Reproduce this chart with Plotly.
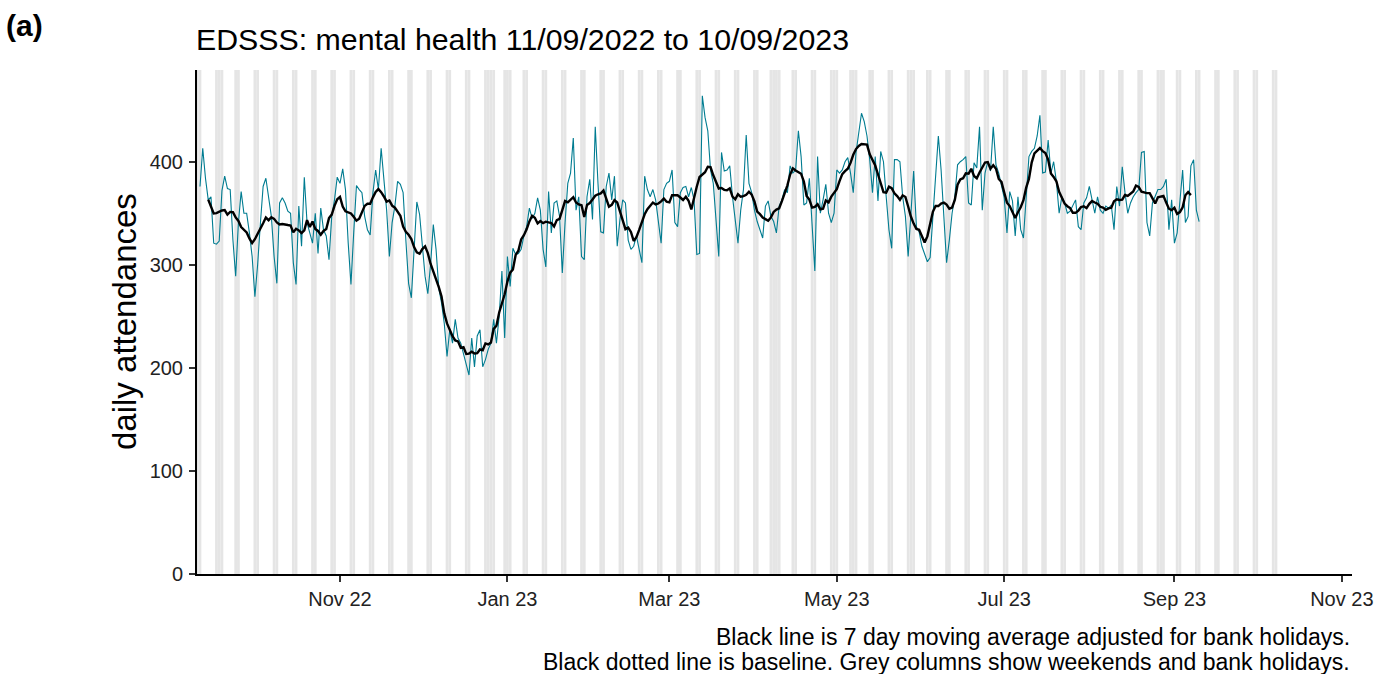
import pandas as pd
import plotly.graph_objects as go

# Daily EDSSS mental health attendances, one value per day from the start date
start_date = "2022-09-11"
daily_attendances = [
    376, 413, 384, 363, 366, 321, 320,
    323, 372, 386, 374, 373, 324, 289,
    341, 371, 350, 350, 331, 308, 269,
    300, 340, 376, 384, 366, 347, 308,
    282, 360, 365, 360, 352, 350, 302,
    281, 357, 318, 385, 341, 331, 321,
    350, 311, 355, 334, 328, 305, 347,
    363, 385, 379, 393, 373, 321, 281,
    331, 377, 373, 370, 347, 334, 329,
    370, 392, 373, 413, 384, 353, 308,
    341, 357, 381, 378, 370, 324, 282,
    268, 321, 361, 349, 315, 289, 272,
    300, 339, 315, 277, 263, 243, 211,
    237, 224, 247, 229, 224, 214, 205,
    193, 229, 201, 231, 237, 201, 208,
    218, 224, 247, 224, 250, 294, 229,
    308, 279, 316, 310, 311, 315, 328,
    337, 355, 345, 350, 365, 353, 315,
    298, 371, 331, 360, 362, 347, 292,
    341, 379, 389, 423, 353, 366, 308,
    305, 366, 383, 344, 434, 379, 332,
    331, 376, 389, 363, 386, 318, 344,
    363, 360, 324, 315, 318, 328, 315,
    302, 386, 373, 366, 373, 363, 341,
    321, 373, 379, 381, 392, 341, 337,
    370, 375, 376, 366, 375, 363, 310,
    311, 464, 443, 430, 392, 379, 347,
    308, 409, 391, 392, 396, 366, 344,
    321, 353, 373, 426, 379, 370, 353,
    342, 334, 326, 357, 362, 347, 342,
    331, 357, 363, 373, 370, 396, 389,
    392, 430, 405, 358, 360, 384, 337,
    294, 405, 350, 363, 378, 350, 341,
    350, 392, 389, 392, 400, 404, 389,
    370, 409, 428, 447, 439, 425, 402,
    370, 405, 362, 410, 400, 366, 334,
    316, 402, 402, 400, 366, 347, 308,
    347, 391, 337, 332, 318, 310, 303,
    307, 344, 379, 425, 392, 350, 302,
    324, 350, 366, 397, 400, 402, 405,
    360, 358, 399, 394, 434, 353, 389,
    400, 391, 434, 397, 389, 376, 365,
    331, 371, 362, 328, 366, 334, 326,
    370, 405, 410, 413, 425, 445, 389,
    390, 421, 389, 400, 381, 350, 366,
    360, 350, 352, 357, 363, 337, 334,
    360, 365, 376, 363, 350, 366, 353,
    350, 357, 355, 358, 334, 376, 357,
    395, 370, 350, 360, 366, 370, 373,
    409, 410, 341, 328, 360, 366, 373,
    373, 376, 383, 334, 363, 321, 331,
    363, 392, 341, 347, 396, 402, 353,
    342,
]

# England bank holidays in the period
bank_holidays = [
    "2022-09-19", "2022-12-26", "2022-12-27", "2023-01-02", "2023-04-07",
    "2023-04-10", "2023-05-01", "2023-05-08", "2023-05-29", "2023-08-28",
]
column_first_day = "2022-09-10"
column_last_day = "2023-10-08"

x_tick_dates = ["2022-11-01", "2023-01-01", "2023-03-01", "2023-05-01",
                "2023-07-01", "2023-09-01", "2023-11-01"]
x_tick_labels = ["Nov 22", "Jan 23", "Mar 23", "May 23", "Jul 23", "Sep 23", "Nov 23"]
y_tick_values = [0, 100, 200, 300, 400]

title_text = "EDSSS: mental health 11/09/2022 to 10/09/2023"
caption_lines = [
    "Black line is 7 day moving average adjusted for bank holidays.",
    "Black dotted line is baseline. Grey columns show weekends and bank holidays.",
]

FONT = "Liberation Sans, Arial, sans-serif"
TEAL = "#007C91"

# Plot area in pixels (left, right, top, bottom)
PL, PR, PT, PB = 197, 1352, 70, 574
PW, PH = PR - PL, PB - PT

dates = pd.date_range(start_date, periods=len(daily_attendances), freq="D")
series = pd.Series(daily_attendances, index=dates, dtype=float)
moving_avg = series.rolling(7, center=True).mean()

# Grey day columns: weekends plus bank holidays
holiday_set = set(pd.to_datetime(bank_holidays))
half_day = pd.Timedelta(hours=12)
shapes = []
for d in pd.date_range(column_first_day, column_last_day, freq="D"):
    if d.weekday() >= 5 or d in holiday_set:
        shapes.append(dict(
            type="rect", xref="x", yref="paper",
            x0=(d - half_day).isoformat(), x1=(d + half_day).isoformat(),
            y0=0, y1=1, fillcolor="#e5e5e5", line=dict(width=0), layer="below",
        ))

fig = go.Figure()
fig.add_trace(go.Scatter(
    x=dates, y=series, mode="lines",
    line=dict(color=TEAL, width=1.1), showlegend=False,
))
fig.add_trace(go.Scatter(
    x=dates, y=moving_avg, mode="lines",
    line=dict(color="black", width=2.4), showlegend=False,
))

x_start = pd.Timestamp(start_date) - pd.Timedelta(days=1.09)
x_end = pd.Timestamp(start_date) + pd.Timedelta(days=419.7)

axis_common = dict(
    showline=True, linecolor="black", linewidth=2,
    ticks="outside", ticklen=6, tickwidth=1.5, tickcolor="#333333",
    tickfont=dict(family=FONT, size=20, color="#222222"),
    showgrid=False, zeroline=False, automargin=False,
)


def px_x(px):
    return (px - PL) / PW


def px_y(py):
    return (PB - py) / PH


fig.update_layout(
    width=1374, height=674,
    margin=dict(l=PL, r=1374 - PR, t=PT, b=674 - PB, autoexpand=False),
    paper_bgcolor="white", plot_bgcolor="white",
    shapes=shapes,
    xaxis=dict(range=[x_start, x_end], tickvals=x_tick_dates,
               ticktext=x_tick_labels, **axis_common),
    yaxis=dict(range=[0, 489], tickvals=y_tick_values, ticklabelstandoff=2,
               **axis_common),
    annotations=[
        dict(text="<b>(a)</b>", xref="paper", yref="paper",
             x=px_x(4), y=px_y(25), xanchor="left", yanchor="middle",
             showarrow=False, font=dict(family=FONT, size=30, color="black")),
        dict(text=title_text, xref="paper", yref="paper",
             x=px_x(194), y=px_y(40), xanchor="left", yanchor="middle",
             showarrow=False, font=dict(family=FONT, size=30.3, color="black")),
        dict(text="daily attendances", xref="paper", yref="paper",
             x=px_x(124), y=0.5, xanchor="center", yanchor="middle",
             textangle=-90, showarrow=False,
             font=dict(family=FONT, size=33, color="black")),
        dict(text=caption_lines[0], xref="paper", yref="paper",
             x=1, y=px_y(637), xanchor="right", yanchor="middle",
             showarrow=False, font=dict(family=FONT, size=23, color="black")),
        dict(text=caption_lines[1], xref="paper", yref="paper",
             x=1, y=px_y(662), xanchor="right", yanchor="middle",
             showarrow=False, font=dict(family=FONT, size=23, color="black")),
    ],
)

fig.write_html("out.html")
